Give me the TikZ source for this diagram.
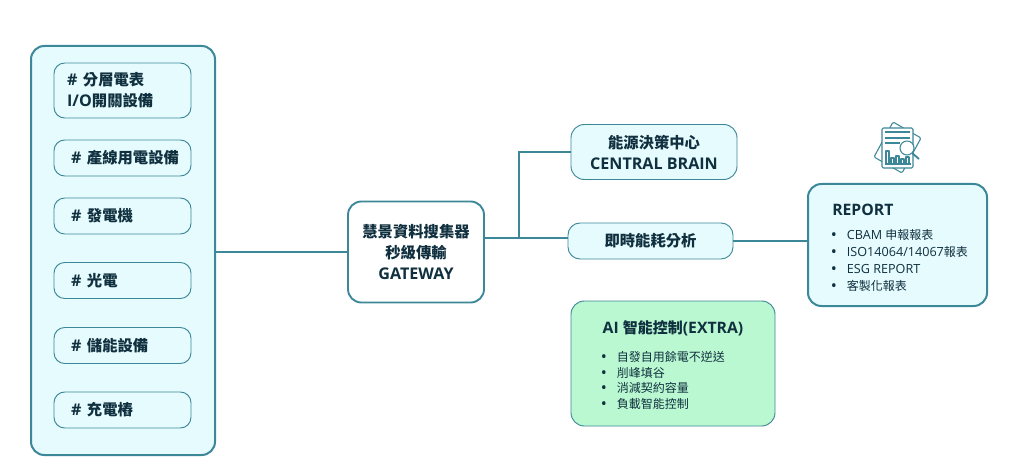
\documentclass[tikz,border=0pt]{standalone}
\usepackage{fontspec}
\setmainfont{Open Sans}[Scale=1.05]
\newfontfamily\cjk{Noto Sans CJK TC}
\usepackage{tikz}
\usetikzlibrary{calc,positioning}
\definecolor{tealline}{HTML}{3C8798}
\definecolor{inkdark}{HTML}{10303F}
\definecolor{paleblue}{HTML}{E5FBFE}
\definecolor{palegreen}{HTML}{B9F8D1}
\tikzset{
  panel/.style    = {draw=tealline,line width=1.5pt,rounded corners=10pt,fill=paleblue,
                     text=inkdark,inner sep=0pt},
  itembox/.style  = {draw=tealline,line width=0.7pt,rounded corners=8pt,fill=paleblue,
                     text=inkdark,inner sep=0pt,align=left,font=\fontsize{11.5}{15.75}\selectfont\bfseries},
  midbox/.style   = {itembox,align=center,rounded corners=10pt},
  gatebox/.style  = {midbox,fill=white,line width=1.4pt,
                     font=\fontsize{11.5}{16}\selectfont\bfseries},
  link/.style     = {draw=tealline,line width=1.5pt},
  boxhead/.style  = {text=inkdark,inner sep=0pt,font=\fontsize{11.25}{13}\selectfont\bfseries},
  bulletlist/.style = {text=inkdark,inner sep=0pt,align=left,
                     font=\fontsize{9}{12.75}\selectfont},
  iconline/.style = {draw=tealline,line width=0.8pt,line join=round},
}
\newcommand{\bul}{\makebox[12pt][l]{\smash{\raisebox{-0.7pt}{\fontsize{11.5}{11.5}\selectfont\textbullet}}}}
\begin{document}
\begin{tikzpicture}[x=0.75pt,y=-0.75pt]
  \useasboundingbox (0,0) rectangle (1012,470);

  % sources panel on the left
  \node[panel,minimum width=138pt,minimum height=306.75pt] (sources) at (123,250.5) {};
  \node[itembox,minimum width=102.75pt,minimum height=41.25pt,text width=83pt] (meter) at (122.5,90.5)
       {\mbox{\# {\cjk 分層電表}}\\\mbox{I/O{\cjk 開關設備}}};
  \foreach \name/\y/\txt in {line/158/產線用電設備, gen/216/發電機, pv/280.5/光電,
                             ess/345.5/儲能設備, ev/410/充電樁}{
    \node[itembox,minimum width=102.75pt,minimum height=27pt,text width=77pt] (\name) at (122.5,\y)
         {\mbox{\# {\cjk \txt}}};
  }

  % middle
  \node[gatebox,minimum width=102pt,minimum height=75.75pt] (gateway) at (416,252)
       {{\cjk 慧景資料搜集器}\\{\cjk 秒級傳輸}\\GATEWAY};
  \node[midbox,minimum width=124.5pt,minimum height=41.25pt] (central) at (654,152)
       {{\cjk 能源決策中心}\\CENTRAL BRAIN};
  \node[midbox,minimum width=123.75pt,minimum height=27pt,rounded corners=9pt] (realtime) at (650.5,241)
       {{\cjk 即時能耗分析}};

  % extra box
  \node[panel,fill=palegreen,line width=0.7pt,minimum width=153pt,minimum height=93.75pt] (extra) at (673,363.5) {};
  \node[boxhead,below=14.5pt of extra.north] (extrahead) {AI {\cjk 智能控制}(EXTRA)};
  \node[bulletlist,anchor=north west,font=\fontsize{9}{11.8}\selectfont] (extralist) at (600.7,351)
       {\bul{\cjk 自發自用餘電不逆送}\\\bul{\cjk 削峰填谷}\\\bul{\cjk 消減契約容量}\\\bul{\cjk 負載智能控制}};

  % report box
  \node[panel,minimum width=134.25pt,minimum height=91.5pt] (report) at (897.5,245) {};
  \node[boxhead,anchor=west] (reporthead) at (832,210) {REPORT};
  \node[bulletlist,anchor=north west] (reportlist) at (830.7,229)
       {\bul CBAM {\cjk 申報報表}\\\bul ISO14064/14067{\cjk 報表}\\\bul ESG REPORT\\\bul{\cjk 客製化報表}};

  % connectors
  \coordinate (tap) at (519,238);
  \draw[link] (sources.east |- gateway.west) -- (gateway.west);
  \draw[link] (tap -| gateway.east) -- (tap -| realtime.west);
  \draw[link] (tap) -- (tap |- central.west) -- (central.west);
  \draw[link] (realtime.east) -- (realtime.east -| report.west);

  % report icon
  \draw[iconline,fill=white,rounded corners=1pt] (893,122) -- (921,138) -- (902,173) -- (874,157) -- cycle;
  \draw[iconline,fill=white,rounded corners=1pt] (882,128) rectangle (913,168);
  \draw[iconline] (885,132) -- (910,132) (885,138) -- (910,138) (885,143) -- (900,143);
  \foreach \xa/\ya in {886/151, 891/158, 896/156, 901/159, 906/157}{
    \draw[iconline] (\xa,164) rectangle (\xa+3,\ya);
  }
  \draw[iconline] (885,164) -- (911,164);
  \draw[iconline,fill=white] (907,148) circle (7);
  \draw[iconline,line width=1.4pt] (912,153) -- (919,159);
\end{tikzpicture}
\end{document}
